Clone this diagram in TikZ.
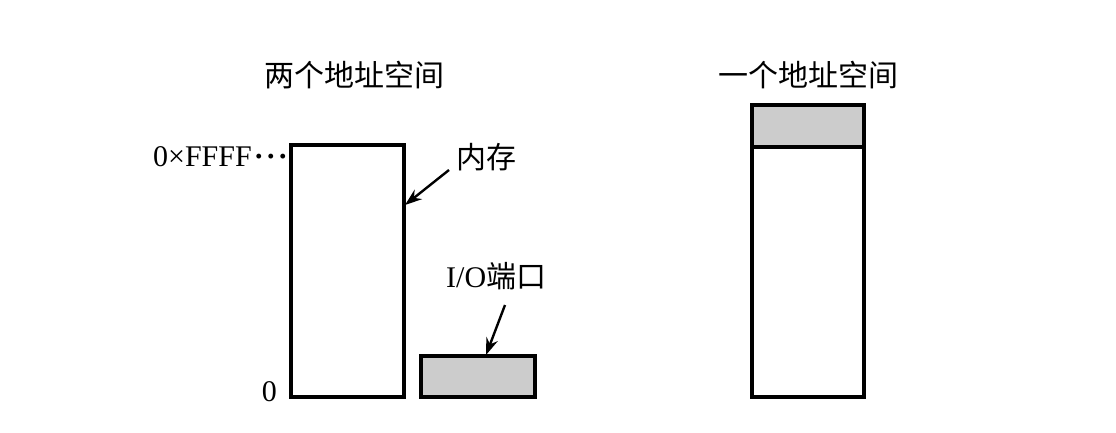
\documentclass[tikz,border=0pt]{standalone}
\usepackage{fontspec}
\setmainfont{Liberation Serif}
\newfontfamily\cjk{Noto Sans CJK SC}
\usetikzlibrary{arrows.meta}
\begin{document}
\begin{tikzpicture}[x=1pt,y=-1pt,
  box/.style={draw=black,line width=3.4pt},
  shade/.style={box,fill=black!20},
  lbl/.style={inner sep=0pt,font=\fontsize{30}{32}\selectfont},
  ttl/.style={inner sep=0pt,font=\fontsize{30}{32}\selectfont\cjk},
  arr/.style={line width=2.4pt,-{Stealth[length=17pt,width=12pt]}}]
\useasboundingbox (0,0) rectangle (1116,432);
% left
\node[ttl] (t1) at (354,75) {两个地址空间};
\draw[box] (291,145) rectangle (404,397);
\coordinate (memarr) at (405,205);
\draw[shade] (421,356) rectangle (535,397);
\coordinate (ioarr) at (486,355);
\node[lbl,anchor=east] (ffff) at (288,157) {0×FFFF\hspace{2pt}{\bfseries ·\hspace{2pt}·\hspace{2pt}·}};
\node[lbl,anchor=east] (zero) at (277,392) {0};
\node[ttl,anchor=west] (mem) at (456,157) {内存};
\node[lbl,anchor=west] (io) at (446,276) {I/O{\cjk 端口}};
\coordinate (mems) at (449,170);
\coordinate (ios) at (505,305);
\draw[arr] (mems) -- (memarr);
\draw[arr] (ios) -- (ioarr);
% right
\node[ttl] (t2) at (808,75) {一个地址空间};
\draw[shade] (752,105) rectangle (864,147);
\draw[box] (752,147) rectangle (864,397);
\end{tikzpicture}
\end{document}
